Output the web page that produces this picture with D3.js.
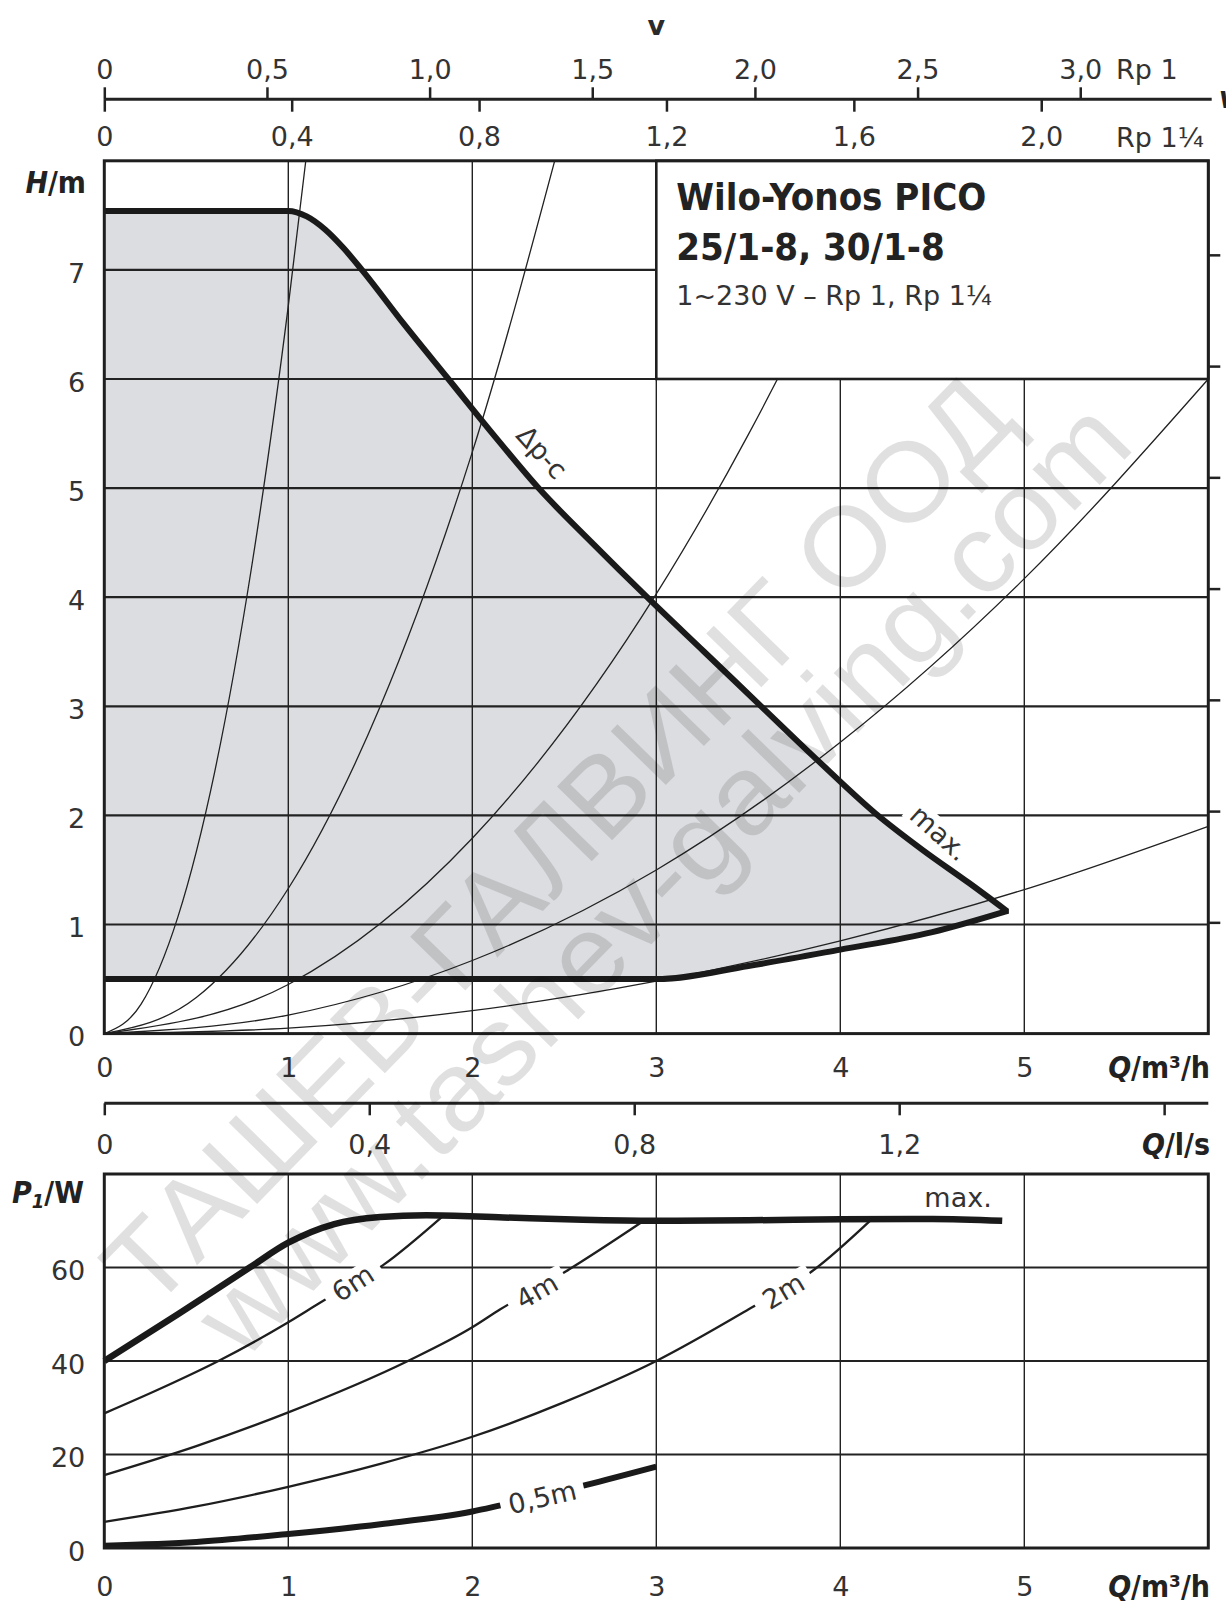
<!DOCTYPE html>
<meta charset="utf-8">
<script src="https://d3js.org/d3.v7.min.js"></script>
<style type="text/css">
body { margin: 0; background: #fff; }
svg text {
  font-family: "DejaVu Sans", sans-serif;
  fill: #2b2b2b;
}
.tick text { font-size: 27px; fill: #333; }
.tick line { stroke: #222; stroke-width: 2.5; }
.domain { display: none; }
.grid-h { stroke: #222; stroke-width: 2.2; }
.grid-v { stroke: #222; stroke-width: 1.4; }
.sys { fill: none; stroke: #222; stroke-width: 1.3; }
.thin { fill: none; stroke: #1e1e1e; stroke-width: 2.3; }
.thick { fill: none; stroke: #1a1a1a; stroke-width: 6; stroke-linejoin: miter; }
.frame { fill: none; stroke: #1e1e1e; stroke-width: 3; }
.axisTitle { font-family: "DejaVu Sans Condensed", "DejaVu Sans", sans-serif; font-size: 30px; font-weight: bold; fill: #222; }
.curveLabel { font-size: 27px; fill: #333; }
.wm { fill: #000; fill-opacity: 0.12; font-family: "Liberation Sans", Arial, sans-serif; font-size: 112px; }
</style>
<body>
<div id="chart"></div>
<script>

// ---------------------------//
//            DATA            //
// ---------------------------//

// ticks
const qTicks = [0, 1, 2, 3, 4, 5]             // m³/h
const hTicks = [0, 1, 2, 3, 4, 5, 6, 7]       // m
const pTicks = [0, 20, 40, 60]                // W
const vRp1Ticks = [0, 0.5, 1.0, 1.5, 2.0, 2.5, 3.0]
const vRp114Ticks = [0, 0.4, 0.8, 1.2, 1.6, 2.0]
const lsTicks = [0, 0.4, 0.8, 1.2, 1.6]
const kpaTicks = [10, 20, 30, 40, 50, 60, 70]

// flow (m³/h) at 1 m/s in each pipe size
const rp1Flow = 1.768
const rp114Flow = 2.546

// pump curves, [Q m³/h, H m]
const maxCurve = [[0, 7.54], [1.0, 7.54], [1.1, 7.49], [1.2, 7.37], [1.3, 7.2], [1.4, 7.0],
  [1.63, 6.5], [1.87, 6.0], [2.11, 5.5], [2.36, 5.0], [2.65, 4.5], [2.95, 4.0], [3.26, 3.5],
  [3.57, 3.0], [3.88, 2.5], [4.19, 2.02], [4.45, 1.68], [4.7, 1.38], [4.9, 1.13]]
const minCurve = [[0, 0.5], [3.0, 0.5], [3.5, 0.62], [4.0, 0.77], [4.5, 0.93], [4.9, 1.12]]

// system curves
const sys1 = [[0, 0], [0.2, 0.27], [0.4, 1.07], [0.6, 2.4], [0.8, 4.27], [1.0, 6.67], [1.1, 8.07]]
const sys2 = [[0, 0], [0.5, 0.33], [1, 1.33], [1.5, 3.0], [2, 5.33], [2.5, 8.33]]
const sys3 = [[0, 0], [1, 0.45], [2, 1.79], [3, 4.03], [3.5, 5.49], [4, 7.17], [4.3, 8.28]]
const sys4 = [[0, 0], [1, 0.17], [2, 0.67], [3, 1.5], [4, 2.67], [5, 4.17], [6, 6.0]]
const sys5 = [[0, 0], [1, 0.05], [2, 0.21], [3, 0.48], [4, 0.85], [5, 1.32], [6, 1.9]]

// power curves, [Q m³/h, P1 W]
const pMax = [[0, 40], [0.4, 50], [0.79, 60], [1.0, 65.3], [1.25, 69.3], [1.5, 70.8],
  [1.75, 71.2], [2.17, 70.7], [2.6, 70.2], [3.0, 70.0], [3.5, 70.1], [4.0, 70.3], [4.5, 70.4], [4.88, 70.0]]
const p6 = [[0, 28.8], [0.3, 34], [0.62, 40], [1.0, 48.3], [1.17, 52.4], [1.515, 60.5], [1.84, 71]]
const p4 = [[0, 15.6], [0.5, 21.8], [1, 29], [1.65, 40], [2, 47.2], [2.15, 51], [2.51, 59.2], [2.94, 70.2]]
const p2 = [[0, 5.6], [0.5, 8.9], [1, 13.1], [1.5, 18], [2, 23.8], [2.5, 31.2], [3, 40], [3.5, 51],
  [3.85, 59.3], [4.17, 70.3]]
const p05 = [[0, 0.5], [0.5, 1.3], [1, 3.0], [1.5, 5.1], [2, 7.8], [2.14, 9.0], [2.62, 13.5], [3, 17.4]]

// curve labels
const headLabels = [
  {text: 'Δp-c', q: 2.38, v: 5.33, angle: 48, pad: 0},
  {text: 'max.', q: 4.54, v: 1.84, angle: 42, pad: 6}
]
const powerLabels = [
  {text: '6m', q: 1.35, v: 56.7, angle: -33, pad: 10},
  {text: '4m', q: 2.35, v: 55.0, angle: -30, pad: 10},
  {text: '2m', q: 3.69, v: 55.0, angle: -31, pad: 10},
  {text: '0,5m', q: 2.38, v: 10.9, angle: -13, pad: 8}
]

const titleLines = ['Wilo-Yonos PICO', '25/1-8, 30/1-8', '1~230 V – Rp 1, Rp 1¼']
const watermark = ['ТАШЕВ-ГАЛВИНГ ООД', 'www.tashev-galving.com']

// ---------------------------//
//          SCALES            //
// ---------------------------//

const width = 1226
const height = 1604
const left = 104.3, right = 1208.3
const headTop = 160.8, headBottom = 1033.6
const powTop = 1174, powBottom = 1548
const vAxisY = 99.3
const lsAxisY = 1103.3

const SVG = d3.select('#chart').append('svg')
  .attr('width', width)
  .attr('height', height)

const x = d3.scaleLinear().domain([0, 6]).range([left, right])
const yH = d3.scaleLinear().domain([0, 8]).range([headBottom, headTop])
const yP = d3.scaleLinear().domain([0, 80]).range([powBottom, powTop])
const vRp1 = d3.scaleLinear().domain([0, 6 / rp1Flow]).range([left, right])
const vRp114 = d3.scaleLinear().domain([0, 6 / rp114Flow]).range([left, right])
const ls = d3.scaleLinear().domain([0, 6 / 3.6]).range([left, right])
const kpa = d3.scaleLinear().domain([0, 8 * 9.80665]).range([headBottom, headTop])

const fmt = d => d === 0 ? '0' : d3.format('.1f')(d).replace('.', ',')
const intFmt = d3.format('d')

const lineH = d3.line().x(d => x(d[0])).y(d => yH(d[1])).curve(d3.curveMonotoneX)
const lineP = d3.line().x(d => x(d[0])).y(d => yP(d[1])).curve(d3.curveMonotoneX)

// ---------------------------//
//        VELOCITY AXIS       //
// ---------------------------//

SVG.append('g')
  .attr('transform', `translate(0,${vAxisY})`)
  .call(d3.axisTop(vRp1).tickValues(vRp1Ticks).tickSize(12).tickPadding(8).tickFormat(fmt))

SVG.append('g')
  .attr('transform', `translate(0,${vAxisY})`)
  .call(d3.axisBottom(vRp114).tickValues(vRp114Ticks).tickSize(12.4).tickPadding(15).tickFormat(fmt))

SVG.append('line')
  .attr('x1', x(0)).attr('x2', x(6) + 3.4)
  .attr('y1', vAxisY).attr('y2', vAxisY)
  .attr('stroke', '#222').attr('stroke-width', 3)

SVG.append('text').attr('x', x(3)).attr('y', 35)
  .attr('text-anchor', 'middle').style('font-size', '27px').style('font-weight', 'bold')
  .text('v')
SVG.append('text').attr('x', 1116).attr('y', 79).style('font-size', '27px').style('fill', '#333').text('Rp 1')
SVG.append('text').attr('x', 1116).attr('y', 147).style('font-size', '27px').style('fill', '#333').text('Rp 1¼')
SVG.append('text').attr('x', 1219).attr('y', 108).attr('class', 'axisTitle').style('font-style', 'italic').text('v/m/s')

// ---------------------------//
//         HEAD CHART         //
// ---------------------------//

SVG.append('clipPath').attr('id', 'clipHead')
  .append('rect').attr('x', x(0)).attr('y', yH(8)).attr('width', x(6) - x(0)).attr('height', yH(0) - yH(8))

const upperPath = lineH(maxCurve)
const lowerPath = lineH(minCurve.slice().reverse())
const outline = upperPath + 'L' + lowerPath.slice(1)

SVG.append('path').attr('d', outline + 'Z').attr('fill', '#dcdde0')

SVG.selectAll('.hv').data(qTicks.slice(1)).enter().append('line')
  .attr('class', 'grid-v')
  .attr('x1', d => x(d)).attr('x2', d => x(d))
  .attr('y1', yH(0)).attr('y2', yH(8))

SVG.selectAll('.hh').data(hTicks.slice(1)).enter().append('line')
  .attr('class', 'grid-h')
  .attr('x1', x(0)).attr('x2', x(6))
  .attr('y1', d => yH(d)).attr('y2', d => yH(d))

SVG.append('g').attr('clip-path', 'url(#clipHead)')
  .selectAll('path').data([sys1, sys2, sys3, sys4, sys5]).enter().append('path')
  .attr('class', 'sys')
  .attr('d', lineH)

// title box
SVG.append('rect')
  .attr('x', x(3)).attr('y', yH(8))
  .attr('width', x(6) - x(3)).attr('height', yH(6) - yH(8))
  .attr('fill', '#fff').attr('stroke', '#1e1e1e').attr('stroke-width', 2.6)

SVG.selectAll('.titleLine').data(titleLines).enter().append('text')
  .attr('x', x(3) + 20)
  .attr('y', (d, i) => yH(8) + [49, 99, 144][i])
  .style('font-family', (d, i) => i < 2 ? '"DejaVu Sans Condensed", "DejaVu Sans", sans-serif' : null)
  .style('font-size', (d, i) => i < 2 ? '38px' : '27px')
  .style('font-weight', (d, i) => i < 2 ? 'bold' : 'normal')
  .style('fill', (d, i) => i < 2 ? '#222' : '#333')
  .text(d => d)

function addLabel(d, px, py) {
  const lg = SVG.append('g').attr('transform', `translate(${px},${py}) rotate(${d.angle})`)
  const t = lg.append('text').attr('class', 'curveLabel')
    .attr('text-anchor', 'middle').attr('dy', '0.36em').text(d.text)
  if (d.pad > 0) {
    const b = t.node().getBBox()
    lg.insert('rect', 'text')
      .attr('x', b.x - d.pad).attr('y', b.y + 3)
      .attr('width', b.width + 2 * d.pad).attr('height', b.height - 6)
      .attr('fill', '#fff')
  }
}

headLabels.forEach(d => addLabel(d, x(d.q), yH(d.v)))

SVG.append('path').attr('class', 'thick').attr('d', outline)

SVG.append('rect').attr('class', 'frame')
  .attr('x', x(0)).attr('y', yH(8))
  .attr('width', x(6) - x(0)).attr('height', yH(0) - yH(8))

SVG.append('g')
  .attr('transform', `translate(${x(6)},0)`)
  .call(d3.axisRight(kpa).tickValues(kpaTicks).tickSize(12).tickFormat(''))

SVG.append('g')
  .attr('transform', `translate(${x(0)},0)`)
  .call(d3.axisLeft(yH).tickValues(hTicks).tickSize(0).tickPadding(19).tickFormat(intFmt))
  .selectAll('text').attr('dy', '0.45em')

SVG.append('g')
  .attr('transform', `translate(0,${yH(0)})`)
  .call(d3.axisBottom(x).tickValues(qTicks).tickSize(0).tickPadding(24).tickFormat(intFmt))

const hTitle = SVG.append('text').attr('class', 'axisTitle').attr('x', 86).attr('y', 193).attr('text-anchor', 'end')
hTitle.append('tspan').style('font-style', 'italic').text('H')
hTitle.append('tspan').text('/m')

const q1Title = SVG.append('text').attr('class', 'axisTitle').attr('x', 1210).attr('y', 1078).attr('text-anchor', 'end')
q1Title.append('tspan').style('font-style', 'italic').text('Q')
q1Title.append('tspan').text('/m³/h')

// ---------------------------//
//          l/s AXIS          //
// ---------------------------//

SVG.append('g')
  .attr('transform', `translate(0,${lsAxisY})`)
  .call(d3.axisBottom(ls).tickValues(lsTicks).tickSize(12).tickPadding(20)
    .tickFormat(d => d === 1.6 ? '' : fmt(d)))

SVG.append('line')
  .attr('x1', x(0)).attr('x2', x(6))
  .attr('y1', lsAxisY).attr('y2', lsAxisY)
  .attr('stroke', '#222').attr('stroke-width', 3)

const lsTitle = SVG.append('text').attr('class', 'axisTitle').attr('x', 1210).attr('y', 1155).attr('text-anchor', 'end')
lsTitle.append('tspan').style('font-style', 'italic').text('Q')
lsTitle.append('tspan').text('/l/s')

// ---------------------------//
//        POWER CHART         //
// ---------------------------//

SVG.selectAll('.pv').data(qTicks.slice(1)).enter().append('line')
  .attr('class', 'grid-v')
  .attr('x1', d => x(d)).attr('x2', d => x(d))
  .attr('y1', yP(0)).attr('y2', yP(80))

SVG.selectAll('.ph').data(pTicks.slice(1)).enter().append('line')
  .attr('class', 'grid-h')
  .attr('x1', x(0)).attr('x2', x(6))
  .attr('y1', d => yP(d)).attr('y2', d => yP(d))

SVG.selectAll('.pthin').data([p6, p4, p2]).enter().append('path')
  .attr('class', 'thin')
  .attr('d', lineP)

SVG.append('path').attr('class', 'thick').style('stroke-width', 6.5).attr('d', lineP(pMax))
SVG.append('path').attr('class', 'thick').attr('d', lineP(p05))

powerLabels.forEach(d => addLabel(d, x(d.q), yP(d.v)))

SVG.append('text').attr('class', 'curveLabel')
  .attr('x', x(4.64)).attr('y', yP(72.9)).attr('text-anchor', 'middle')
  .text('max.')

SVG.append('rect').attr('class', 'frame')
  .attr('x', x(0)).attr('y', yP(80))
  .attr('width', x(6) - x(0)).attr('height', yP(0) - yP(80))

SVG.append('g')
  .attr('transform', `translate(${x(0)},0)`)
  .call(d3.axisLeft(yP).tickValues(pTicks).tickSize(0).tickPadding(19).tickFormat(intFmt))
  .selectAll('text').attr('dy', '0.45em')

SVG.append('g')
  .attr('transform', `translate(0,${yP(0)})`)
  .call(d3.axisBottom(x).tickValues(qTicks).tickSize(0).tickPadding(29).tickFormat(intFmt))

const pTitle = SVG.append('text').attr('class', 'axisTitle').attr('x', 12).attr('y', 1203)
pTitle.append('tspan').style('font-style', 'italic').text('P')
pTitle.append('tspan').style('font-style', 'italic').style('font-size', '20px').attr('dy', 5).text('1')
pTitle.append('tspan').attr('dy', -5).text('/W')

const q2Title = SVG.append('text').attr('class', 'axisTitle').attr('x', 1210).attr('y', 1597).attr('text-anchor', 'end')
q2Title.append('tspan').style('font-style', 'italic').text('Q')
q2Title.append('tspan').text('/m³/h')

// ---------------------------//
//         WATERMARK          //
// ---------------------------//

SVG.selectAll('.wmLine').data(watermark).enter().append('text')
  .attr('class', 'wm')
  .attr('text-anchor', 'middle')
  .attr('transform', (d, i) => i === 0 ? 'translate(585,868) rotate(-45.7)' : 'translate(690,905) rotate(-45.7)')
  .attr('textLength', (d, i) => i === 0 ? 1245 : 1280)
  .attr('lengthAdjust', 'spacingAndGlyphs')
  .text(d => d)

</script>
</body>
